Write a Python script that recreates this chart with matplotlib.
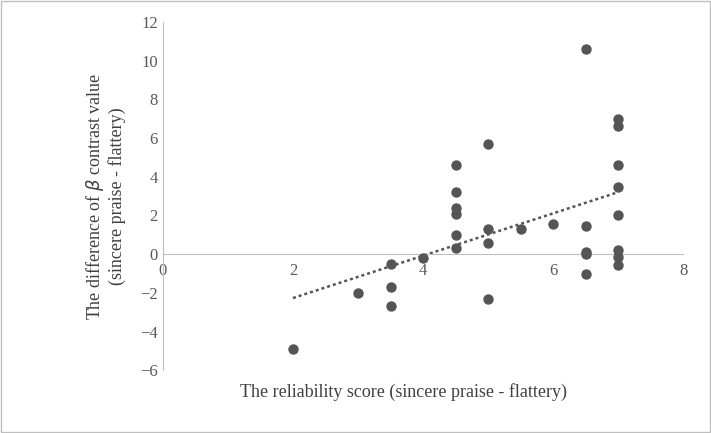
import numpy as np
import matplotlib
matplotlib.use("Agg")
import matplotlib.pyplot as plt

plt.rcParams["font.family"] = "Liberation Serif"

x = [2, 3, 3.5, 3.5, 3.5, 4, 4.5, 4.5, 4.5, 4.5, 4.5, 4.5, 5, 5, 5, 5, 5.5, 6,
     6.5, 6.5, 6.5, 6.5, 6.5, 7, 7, 7, 7, 7, 7, 7, 7]
y = [-4.9, -2.0, -0.5, -1.7, -2.7, -0.2, 4.6, 3.2, 2.4, 2.1, 1.0, 0.3, 5.7, 1.3, 0.6, -2.3, 1.3, 1.55,
     10.6, 1.45, 0.1, 0.0, -1.0, 7.0, 6.65, 4.6, 3.45, 2.0, 0.2, -0.15, -0.55]
xticks = [0, 2, 4, 6, 8]
yticks = [-6, -4, -2, 0, 2, 4, 6, 8, 10, 12]

fig = plt.figure(figsize=(7.11, 4.33), dpi=100)
fig.patches.append(plt.Rectangle((0.002, 0.002), 0.996, 0.996, transform=fig.transFigure,
                                 fill=False, edgecolor="#bfbfbf", lw=1))
ax = fig.add_axes([0.229, 0.145, 0.732, 0.804])
ax.set_xlim(0, 8)
ax.set_ylim(-6, 12)
ax.scatter(x, y, s=42, color="#555555", zorder=3)
k, b = np.polyfit(x, y, 1)
xs = np.array([min(x), max(x)])
ax.plot(xs, k * xs + b, ls=(0, (1.2, 1.2)), color="#555555", lw=1.8)

for s in ["top", "right"]:
    ax.spines[s].set_visible(False)
ax.spines["left"].set_color("#bfbfbf")
ax.spines["bottom"].set_position(("data", 0))
ax.spines["bottom"].set_color("#bfbfbf")
ax.set_yticks(yticks)
ax.set_xticks(xticks)
ax.tick_params(length=0, labelsize=12, colors="#595959")
ax.tick_params(axis="x", pad=6)
fig.text(0.567, 0.095, "The reliability score (sincere praise - flattery)", fontsize=13,
         color="#404040", ha="center", va="center")
ax.set_ylabel("The difference of $\\beta$ contrast value\n(sincere praise - flattery)", fontsize=13,
              color="#404040", labelpad=10)
fig.savefig("out.png")
